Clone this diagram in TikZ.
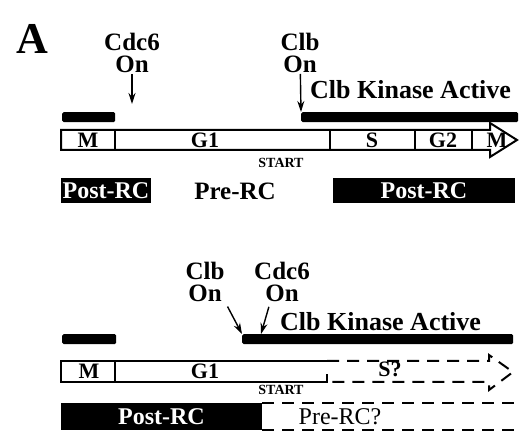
\documentclass[tikz,border=0pt]{standalone}
\usepackage{fontspec}
\setmainfont{Liberation Serif}
\usetikzlibrary{arrows.meta}

\begin{document}
\begin{tikzpicture}[
  x=1pt, y=-1pt,
  lbl/.style={font=\fontsize{25}{22}\selectfont\bfseries, align=center, inner sep=1pt},
  phase/.style={font=\fontsize{22}{22}\selectfont\bfseries, inner sep=0pt},
  startlbl/.style={font=\fontsize{14}{14}\selectfont\bfseries, inner sep=0pt},
  kinase/.style={fill=black, rounded corners=1.5pt, inner sep=0pt, minimum height=10pt, anchor=north west},
  rcbox/.style={fill=black, text=white, font=\fontsize{24}{24}\selectfont\bfseries, inner sep=0pt},
  cyclebar/.style={line width=2pt, line join=miter},
  divider/.style={line width=2pt},
  onarrow/.style={line width=1.4pt, -{Stealth[length=11pt,width=7pt]}},
  opendash/.style={line width=2pt, dash pattern=on 12pt off 8pt}
]
\useasboundingbox (0,0) rectangle (522,443);

% wild type cycle
\node[font=\fontsize{44}{44}\selectfont\bfseries, inner sep=0pt] (panelA) at (32,39) {A};
\node[lbl] (cdcOnA) at (132,53) {Cdc6\\On};
\node[lbl] (clbOnA) at (300,53) {Clb\\On};
\node[kinase, minimum width=53pt] (oldKinA) at (62,112) {};
\node[kinase, minimum width=217pt] (kinA) at (301,112) {};
\node[lbl, font=\fontsize{26}{26}\selectfont\bfseries, anchor=base west] (kinTxtA) at (309,99) {Clb Kinase Active};
\coordinate (cdcTipA) at (132,104);
\draw[onarrow] (cdcOnA) -- (cdcTipA);
\draw[onarrow] (clbOnA) -- (kinA.north west);

\draw[cyclebar] (61,130) -- (490,130) -- (490,123) -- (517,140) -- (490,157) -- (490,150) -- (61,150) -- cycle;
\foreach \x in {115,330,415,472}
  \draw[divider] (\x,130) -- (\x,150);
\node[phase] (mA) at (88,140) {M};
\node[phase] (g1A) at (205,140) {G1};
\node[phase] (sA) at (372,140) {S};
\node[phase] (g2A) at (443,140) {G2};
\node[phase] (m2A) at (497,140) {M};
\node[startlbl] (startA) at (281,163) {START};

\node[rcbox, minimum width=90pt, minimum height=25pt] (postA) at (106,191) {Post-RC};
\node[lbl] (preA) at (235,191) {Pre-RC};
\node[rcbox, minimum width=182pt, minimum height=25pt] (post2A) at (424,191) {Post-RC};

% early Cdc6 / Clb
\node[lbl] (clbOnB) at (205,282) {Clb\\On};
\node[lbl] (cdcOnB) at (282,282) {Cdc6\\On};
\node[kinase, minimum width=54pt] (oldKinB) at (62,334) {};
\node[kinase, minimum width=271pt] (kinB) at (242,334) {};
\node[lbl, font=\fontsize{26}{26}\selectfont\bfseries, anchor=base west] (kinTxtB) at (279,331) {Clb Kinase Active};
\coordinate (cdcTipB) at (261,334);
\draw[onarrow, shorten <=4pt] (clbOnB.south east) -- (kinB.north west);
\draw[onarrow, shorten <=4pt] ([xshift=-12pt]cdcOnB.south) -- (cdcTipB);

\draw[cyclebar] (327,361) -- (61,361) -- (61,382) -- (327,382) -- (327,374);
\draw[cyclebar, opendash] (327,361) -- (489,361) -- (489,355) -- (513,372) -- (489,390) -- (489,382) -- (327,382);
\draw[divider] (115,361) -- (115,382);
\node[phase] (mB) at (89,371) {M};
\node[phase] (g1B) at (205,371) {G1};
\node[phase] (sB) at (390,369) {S?};
\node[startlbl] (startB) at (281,390) {START};

\node[rcbox, minimum width=201pt, minimum height=27pt] (postB) at (161.5,416.5) {Post-RC};
\node[inner sep=0pt, minimum width=253pt, minimum height=27pt, anchor=west] (preBoxB) at (262,416.5) {};
\draw[opendash] (preBoxB.north west) -- (preBoxB.north east) (preBoxB.south west) -- (preBoxB.south east);
\node[font=\fontsize{24}{24}\selectfont, inner sep=0pt] (preB) at (340,417) {Pre-RC?};
\end{tikzpicture}
\end{document}
